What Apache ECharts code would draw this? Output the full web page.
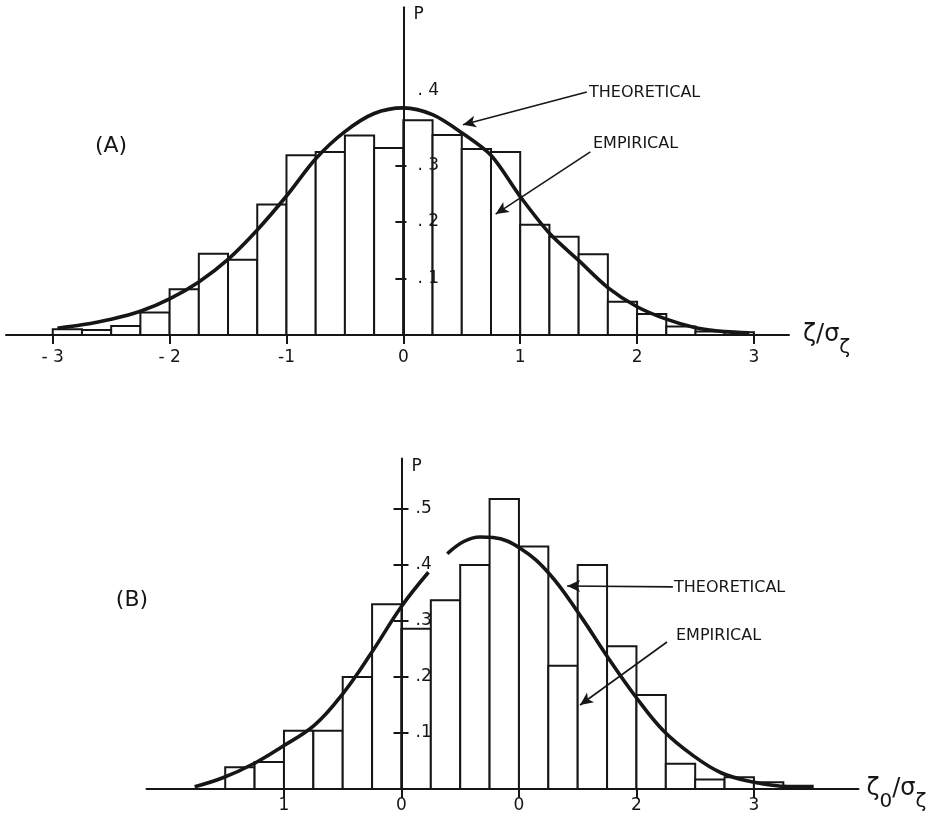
<!DOCTYPE html>
<html>
<head>
<meta charset="utf-8">
<script src="https://cdn.jsdelivr.net/npm/echarts@6/dist/echarts.min.js"></script>
<style>
    html, body { margin: 0; padding: 0; background: #fff; }
    #chart { width: 935px; height: 826px; }
</style>
</head>
<body>
<div id="chart"></div>
<script>
// (A) histogram: bin left edges (width 0.25) and heights
const binW = 0.25;
const binsA = [-3, -2.75, -2.5, -2.25, -2, -1.75, -1.5, -1.25, -1, -0.75, -0.5, -0.25,
    0, 0.25, 0.5, 0.75, 1, 1.25, 1.5, 1.75, 2, 2.25, 2.5, 2.75];
const heightsA = [0.010, 0.009, 0.016, 0.040, 0.081, 0.144, 0.133, 0.231, 0.318, 0.324, 0.353, 0.331,
    0.380, 0.354, 0.329, 0.324, 0.195, 0.174, 0.143, 0.059, 0.037, 0.015, 0.006, 0.005];
// (A) theoretical curve
const curveAx = [-2.96, -2.75, -2.5, -2.25, -2, -1.75, -1.5, -1.25, -1, -0.75, -0.5, -0.25, 0,
    0.25, 0.5, 0.75, 1, 1.25, 1.5, 1.75, 2, 2.25, 2.5, 2.75, 2.96];
const curveAy = [0.012, 0.018, 0.028, 0.042, 0.064, 0.094, 0.134, 0.186, 0.246, 0.312, 0.360, 0.392, 0.402,
    0.390, 0.358, 0.318, 0.245, 0.180, 0.132, 0.084, 0.050, 0.028, 0.013, 0.006, 0.004];
const ticksA = [-3, -2, -1, 0, 1, 2, 3];
const tickLabelsA = ['- 3', '- 2', '-1', '0', '1', '2', '3'];

// (B) histogram
const binsB = [-1.5, -1.25, -1, -0.75, -0.5, -0.25, 0, 0.25, 0.5, 0.75,
    1, 1.25, 1.5, 1.75, 2, 2.25, 2.5, 2.75, 3, 3.25];
const heightsB = [0.039, 0.048, 0.104, 0.104, 0.200, 0.330, 0.286, 0.337, 0.400, 0.518,
    0.433, 0.220, 0.400, 0.255, 0.168, 0.045, 0.017, 0.021, 0.012, 0.006];
// (B) theoretical curve (null = gap under the ".4" label)
const curveBx = [-1.76, -1.52, -1.25, -1.02, -0.74, -0.5, -0.25, 0, 0.23, 0.3, 0.39, 0.53, 0.67, 0.78,
    1.01, 1.26, 1.52, 1.76, 2.0, 2.23, 2.48, 2.72, 2.98, 3.23, 3.5];
const curveBy = [0.004, 0.020, 0.046, 0.075, 0.114, 0.170, 0.245, 0.326, 0.387, null, 0.420, 0.442, 0.450, 0.449,
    0.430, 0.384, 0.310, 0.234, 0.163, 0.104, 0.060, 0.029, 0.013, 0.005, 0.002];
const ticksB = [-1, 0, 1, 2, 3];
const tickLabelsB = ['1', '0', '0', '2', '3'];

const INK = '#161616';
const FONT = 'DejaVu Sans';

function renderBar(params, api) {
    const p0 = api.coord([api.value(0), api.value(2)]);
    const p1 = api.coord([api.value(1), 0]);
    return {
        type: 'rect',
        shape: {x: p0[0], y: p0[1], width: p1[0] - p0[0], height: p1[1] - p0[1]},
        style: {fill: '#fff', stroke: INK, lineWidth: 2}
    };
}

const xAxisBase = (grid, min, max, ticks, labels, margin, name, gap) => ({
    gridIndex: grid, type: 'value', min, max, z: 5,
    axisLine: {onZero: true, lineStyle: {color: INK, width: 2}},
    axisTick: {customValues: ticks, length: 9, lineStyle: {color: INK, width: 2}},
    axisLabel: {
        customValues: ticks, margin, fontSize: 17, color: INK, fontFamily: FONT,
        formatter: v => labels[ticks.indexOf(v)]
    },
    splitLine: {show: false},
    name, nameLocation: 'end', nameGap: gap,
    nameTextStyle: {
        color: INK, fontFamily: FONT,
        rich: {
            m: {fontSize: 24, color: INK, fontFamily: FONT},
            s: {fontSize: 20, color: INK, fontFamily: FONT, padding: [26, 0, 0, 0]}
        }
    }
});

// y axis sits at x = 0, so it is pushed into the grid by `offset`
const yAxisBase = (grid, max, offset, ticks, labels, fmt) => ({
    gridIndex: grid, type: 'value', position: 'left', min: 0, max, offset, z: 5,
    axisLine: {onZero: false, lineStyle: {color: INK, width: 2}},
    axisTick: {customValues: ticks, length: 8, lineStyle: {color: INK, width: 2}},
    axisLabel: {
        customValues: labels, inside: true, margin: 14, fontSize: 17, color: INK, fontFamily: FONT,
        formatter: fmt,
        rich: {up: {fontSize: 17, color: INK, fontFamily: FONT, padding: [0, 0, 36, 0]}}
    },
    splitLine: {show: false},
    name: 'P', nameLocation: 'end', nameGap: -16,
    nameTextStyle: {align: 'left', padding: [0, 0, 0, 10], fontSize: 17, color: INK, fontFamily: FONT}
});

// second copy of the y axis, only for the part of each tick that crosses to the right
const yTickInner = (grid, max, offset, ticks, len) => ({
    gridIndex: grid, type: 'value', position: 'left', min: 0, max, offset, z: 5,
    axisLine: {show: false, onZero: false},
    axisTick: {customValues: ticks, inside: true, length: len, lineStyle: {color: INK, width: 2}},
    axisLabel: {show: false}, splitLine: {show: false}
});

const arrowLines = (pairs) => ({
    silent: true, symbol: ['none', 'arrow'], symbolSize: [9, 13],
    lineStyle: {color: INK, width: 1.6, type: 'solid'},
    label: {show: false}, emphasis: {disabled: true},
    data: pairs.map(p => [{coord: p[0]}, {coord: p[1]}])
});

const chart = echarts.init(document.getElementById('chart'));
chart.setOption({
    animation: false,
    backgroundColor: '#fff',
    grid: [
        {left: 6, top: 7.3, width: 783, height: 327.7},
        {left: 146.5, top: 458.6, width: 712, height: 330.4}
    ],
    xAxis: [
        xAxisBase(0, -3.4, 3.3, ticksA, tickLabelsA, 14, '{m|ζ/σ}{s|ζ}', 14),
        xAxisBase(1, -2.17, 3.89, ticksB, tickLabelsB, 8, '{m|ζ}{s|0}{m|/σ}{s|ζ}', 8)
    ],
    yAxis: [
        yAxisBase(0, 0.58, -397.4, [0.1, 0.2, 0.3], [0.1, 0.2, 0.3, 0.4],
            v => Math.round(v * 10) === 4 ? '{up|. 4}' : '. ' + Math.round(v * 10)),
        yAxisBase(1, 0.59, -255, [0.1, 0.2, 0.3, 0.4, 0.5], [0.1, 0.2, 0.3, 0.4, 0.5],
            v => '.' + Math.round(v * 10)),
        yTickInner(0, 0.58, -397.4, [0.1, 0.2, 0.3], 3),
        yTickInner(1, 0.59, -255, [0.1, 0.2, 0.3, 0.4, 0.5], 7)
    ],
    series: [
        {
            type: 'custom', xAxisIndex: 0, yAxisIndex: 0, renderItem: renderBar,
            encode: {x: [0, 1], y: 2}, silent: true, z: 2,
            data: binsA.map((b, i) => [b, b + binW, heightsA[i]])
        },
        {
            type: 'line', xAxisIndex: 0, yAxisIndex: 0, smooth: 0.3,
            symbol: 'none', z: 6,
            lineStyle: {color: INK, width: 3.6},
            data: curveAx.map((x, i) => [x, curveAy[i]]),
            markLine: arrowLines([
                [[1.57, 0.43], [0.51, 0.372]],
                [[1.6, 0.324], [0.79, 0.214]]
            ])
        },
        {
            type: 'custom', xAxisIndex: 1, yAxisIndex: 1, renderItem: renderBar,
            encode: {x: [0, 1], y: 2}, silent: true, z: 2,
            data: binsB.map((b, i) => [b, b + binW, heightsB[i]])
        },
        {
            type: 'line', xAxisIndex: 1, yAxisIndex: 1, smooth: 0.4,
            symbol: 'none', z: 6, connectNulls: false,
            lineStyle: {color: INK, width: 3.6},
            data: curveBx.map((x, i) => [x, curveBy[i] === null ? '-' : curveBy[i]]),
            markLine: arrowLines([
                [[2.31, 0.361], [1.41, 0.3625]],
                [[2.26, 0.2625], [1.52, 0.15]]
            ])
        }
    ],
    graphic: [
        {type: 'text', x: 111, y: 146, style: {text: '(A)', font: '22px "DejaVu Sans"', fill: INK, align: 'center', verticalAlign: 'middle'}},
        {type: 'text', x: 132, y: 600, style: {text: '(B)', font: '22px "DejaVu Sans"', fill: INK, align: 'center', verticalAlign: 'middle'}},
        {type: 'text', x: 589, y: 93, style: {text: 'THEORETICAL', font: '16px "DejaVu Sans"', fill: INK, verticalAlign: 'middle'}},
        {type: 'text', x: 593, y: 144, style: {text: 'EMPIRICAL', font: '16px "DejaVu Sans"', fill: INK, verticalAlign: 'middle'}},
        {type: 'text', x: 674, y: 588, style: {text: 'THEORETICAL', font: '16px "DejaVu Sans"', fill: INK, verticalAlign: 'middle'}},
        {type: 'text', x: 676, y: 636, style: {text: 'EMPIRICAL', font: '16px "DejaVu Sans"', fill: INK, verticalAlign: 'middle'}}
    ]
});
</script>
</body>
</html>
